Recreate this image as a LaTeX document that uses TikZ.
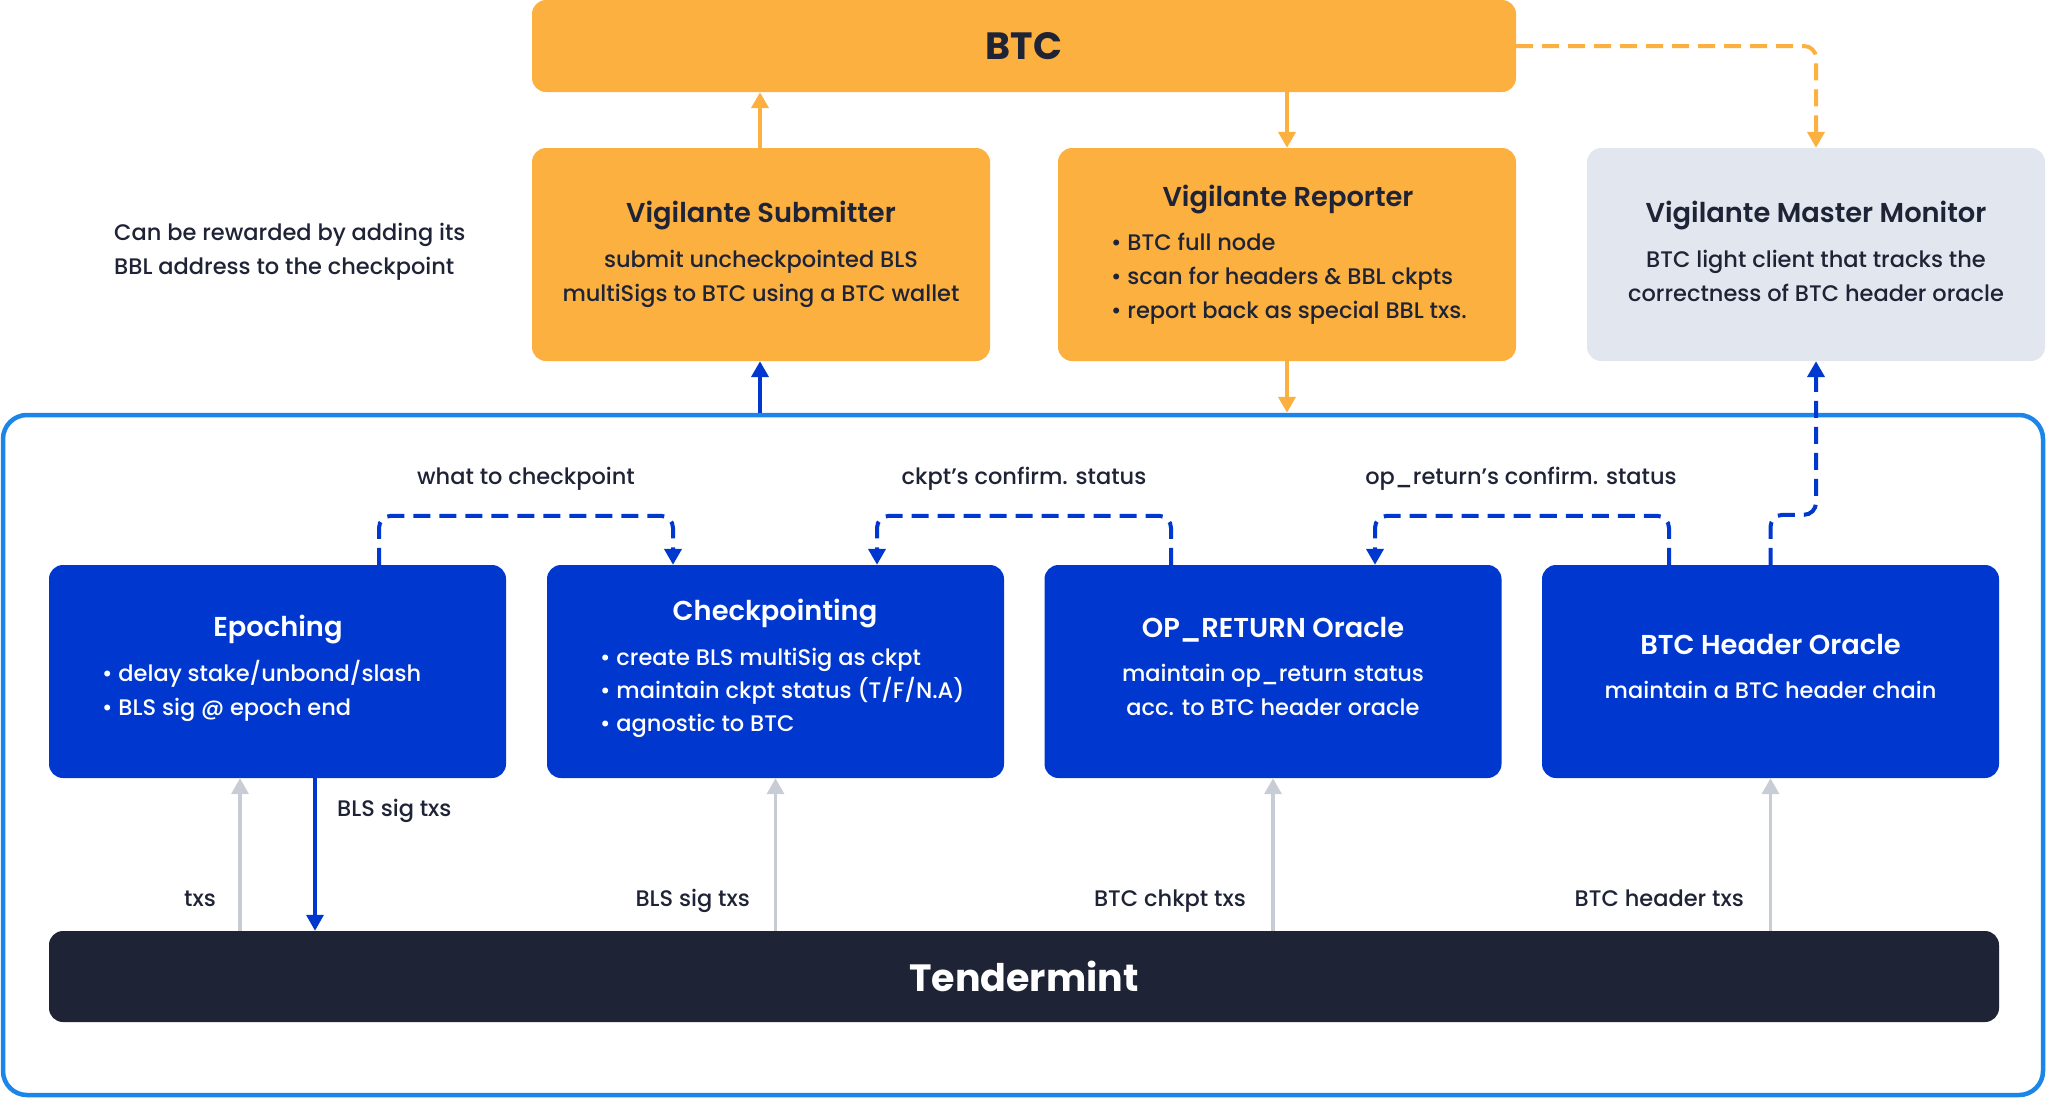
\documentclass[tikz,border=0pt]{standalone}
\usepackage{fontspec}
\setmainfont{Poppins}
\newfontfamily\pmed{Poppins Medium}
\newfontfamily\psemi{Poppins SemiBold}
\usetikzlibrary{arrows.meta}
\definecolor{orng}{HTML}{FBB040}
\definecolor{bblue}{HTML}{0038CF}
\definecolor{cblue}{HTML}{1C86E8}
\definecolor{ink}{HTML}{1F2336}
\definecolor{gry}{HTML}{C8CCD4}
\definecolor{mgray}{HTML}{E2E6EE}
\begin{document}
\begin{tikzpicture}[x=1pt,y=-1pt,
  box/.style={rectangle, rounded corners=14pt, inner sep=0pt, minimum height=213pt, minimum width=458pt},
  obox/.style={box, fill=orng},
  gbox/.style={box, fill=mgray},
  bbox/.style={box, fill=bblue, minimum width=457pt},
  ttl/.style={anchor=base, inner sep=0pt, font=\psemi\fontsize{27.3}{30}\selectfont},
  txt/.style={anchor=base, inner sep=0pt, font=\pmed\fontsize{22.5}{26}\selectfont},
  lst/.style={txt, anchor=base west},
  lbl/.style={txt, text=ink},
  tip/.style={-{Triangle[length=16pt,width=17pt]}},
  oarr/.style={tip, draw=orng, line width=4pt},
  barr/.style={tip, draw=bblue, line width=4pt},
  garr/.style={tip, draw=gry, line width=3.5pt},
  odash/.style={oarr, dash pattern=on 17pt off 9pt, rounded corners=12pt},
  bdash/.style={barr, dash pattern=on 17pt off 9pt, rounded corners=12pt}
]
\useasboundingbox (0,0) rectangle (2048,1098);

% container
\node[draw=cblue, line width=4.5pt, rounded corners=24pt, minimum width=2040pt, minimum height=680pt, inner sep=0pt] (cont) at (1023,755) {};

% top row
\node[obox, minimum width=984pt, minimum height=92pt, text=ink, font=\bfseries\fontsize{38}{40}\selectfont] (btc) at (1024,46) {BTC};
\node[obox] (sub) at (761,254.5) {};
\node[obox] (rep) at (1287,254.5) {};
\node[gbox] (mon) at (1816,254.5) {};

\node[ttl, text=ink] (subT) at (761,222.7) {Vigilante Submitter};
\node[txt, text=ink] (sub1) at (761,267.7) {submit uncheckpointed BLS};
\node[txt, text=ink] (sub2) at (761,301) {multiSigs to BTC using a BTC wallet};

\node[ttl, text=ink] (repT) at (1288,206) {Vigilante Reporter};
\node[lst, text=ink] (rep1) at (1111,250.7) {\textbullet\ BTC full node};
\node[lst, text=ink] (rep2) at (1111,284) {\textbullet\ scan for headers \& BBL ckpts};
\node[lst, text=ink] (rep3) at (1111,318.3) {\textbullet\ report back as special BBL txs.};

\node[ttl, text=ink] (monT) at (1816,222.7) {Vigilante Master Monitor};
\node[txt, text=ink] (mon1) at (1816,267.7) {BTC light client that tracks the};
\node[txt, text=ink] (mon2) at (1816,301.7) {correctness of BTC header oracle};

\node[lst, text=ink] (note1) at (114,240.7) {Can be rewarded by adding its};
\node[lst, text=ink] (note2) at (114,274) {BBL address to the checkpoint};

% module row
\node[bbox] (epo) at (277.5,671.5) {};
\node[bbox] (chk) at (775.5,671.5) {};
\node[bbox] (opr) at (1273,671.5) {};
\node[bbox] (hdr) at (1770.5,671.5) {};

\node[ttl, text=white] (epoT) at (278,636.7) {Epoching};
\node[lst, text=white] (epo1) at (102,681.7) {\textbullet\ delay stake/unbond/slash};
\node[lst, text=white] (epo2) at (102,715) {\textbullet\ BLS sig @ epoch end};

\node[ttl, text=white] (chkT) at (775,620) {Checkpointing};
\node[lst, text=white] (chk1) at (600,665) {\textbullet\ create BLS multiSig as ckpt};
\node[lst, text=white] (chk2) at (600,698.3) {\textbullet\ maintain ckpt status (T/F/N.A)};
\node[lst, text=white] (chk3) at (600,731.7) {\textbullet\ agnostic to BTC};

\node[ttl, text=white] (oprT) at (1273,637.3) {OP\_RETURN Oracle};
\node[txt, text=white] (opr1) at (1273,681.7) {maintain op\_return status};
\node[txt, text=white] (opr2) at (1273,715) {acc. to BTC header oracle};

\node[ttl, text=white] (hdrT) at (1770.5,654.3) {BTC Header Oracle};
\node[txt, text=white] (hdr1) at (1770.5,698.3) {maintain a BTC header chain};

% tendermint
\node[rectangle, rounded corners=14pt, fill=ink, minimum width=1950pt, minimum height=91pt, inner sep=0pt, text=white, font=\bfseries\fontsize{38}{40}\selectfont] (tm) at (1024,976.5) {Tendermint};

% labels
\node[lbl] (l1) at (526,484.3) {what to checkpoint};
\node[lbl] (l2) at (1024,484.3) {ckpt’s confirm. status};
\node[lbl] (l3) at (1521,484.3) {op\_return’s confirm. status};
\node[lbl, anchor=base west] (l4) at (337,816) {BLS sig txs};
\node[lbl, anchor=base east] (l5) at (216,906) {txs};
\node[lbl, anchor=base east] (l6) at (750,906) {BLS sig txs};
\node[lbl, anchor=base east] (l7) at (1246,906) {BTC chkpt txs};
\node[lbl, anchor=base east] (l8) at (1744,906) {BTC header txs};

% orange connectors
\draw[oarr] ([xshift=-1pt]sub.north) -- ([xshift=-1pt]sub.north |- btc.south);
\draw[oarr] (btc.south -| rep.north) -- (rep.north);
\draw[odash] (btc.east) -| (mon.north);
\draw[oarr] (rep.south) -- (rep.south |- cont.north);

% blue connectors to vigilantes
\draw[barr] ([xshift=-1pt]sub.south |- cont.north) -- ([xshift=-1pt]sub.south);
\draw[bdash] (hdr.north) -- ++(0,-50) -| (mon.south);

% dashed feedback between modules
\draw[bdash] ([xshift=101.5pt]epo.north) -- ++(0,-49) -| ([xshift=-102.5pt]chk.north);
\draw[bdash] ([xshift=-102pt]opr.north) -- ++(0,-49) -| ([xshift=101.5pt]chk.north);
\draw[bdash] ([xshift=-101.5pt]hdr.north) -- ++(0,-49) -| ([xshift=102pt]opr.north);

% tendermint arrows
\draw[garr] ([xshift=-37.5pt]epo.south |- tm.north) -- ([xshift=-37.5pt]epo.south);
\draw[barr, line width=3.5pt] ([xshift=37.5pt]epo.south) -- ([xshift=37.5pt]epo.south |- tm.north);
\draw[garr] (chk.south |- tm.north) -- (chk.south);
\draw[garr] (opr.south |- tm.north) -- (opr.south);
\draw[garr] (hdr.south |- tm.north) -- (hdr.south);
\end{tikzpicture}
\end{document}
